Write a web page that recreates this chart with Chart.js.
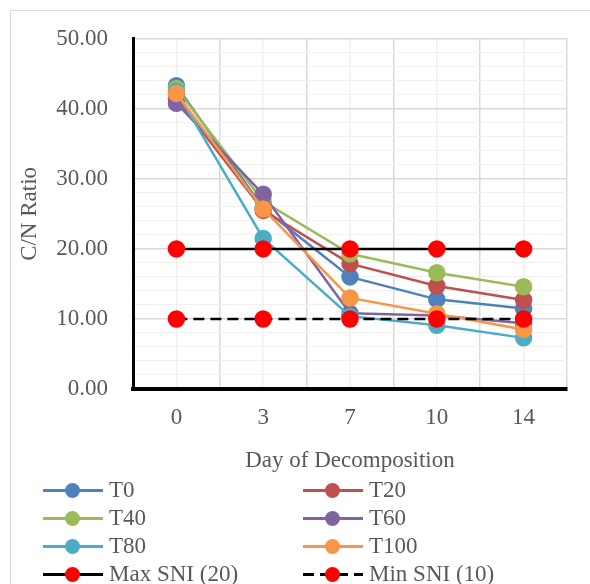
<!DOCTYPE html>
<html>
<head>
<meta charset="utf-8">
<script src="https://cdn.jsdelivr.net/npm/chart.js@4"></script>
<style>
  body { margin: 0; background: #fff; }
  #wrap { position: relative; width: 590px; height: 584px; overflow: hidden; }
  #frame { position: absolute; left: 10px; top: 10px; width: 620px; height: 620px; border: 1px solid #d9d9d9; }
  #chart { position: absolute; left: 0; top: 0; }
  .item { position: absolute; height: 28px; font: 23px "Liberation Serif", "Times New Roman", serif; color: #595959; white-space: nowrap; }
  .item .sym { position: absolute; left: 0; top: 13px; width: 60px; height: 3px; }
  .item .dot { position: absolute; left: 22px; top: 7px; width: 15px; height: 15px; border-radius: 50%; }
  .item .txt { position: absolute; left: 66px; top: 0; line-height: 28px; }
</style>
</head>
<body>
<div id="wrap">
  <div id="frame"></div>
  <canvas id="chart" width="590" height="480"></canvas>
  <div id="legend"></div>
</div>
<script>
const days = ['0', '3', '7', '10', '14'];
const seriesNames = ['T0', 'T20', 'T40', 'T60', 'T80', 'T100', 'Max SNI (20)', 'Min SNI (10)'];
const t0 = [43.3, 25.8, 16.0, 12.8, 11.5];
const t20 = [41.5, 25.5, 17.9, 14.7, 12.7];
const t40 = [42.9, 26.8, 19.3, 16.6, 14.6];
const t60 = [40.8, 27.8, 10.8, 10.5, 9.4];
const t80 = [42.5, 21.5, 10.4, 9.1, 7.3];
const t100 = [42.2, 25.7, 13.0, 10.75, 8.5];
const maxSni = [20, 20, 20, 20, 20];
const minSni = [10, 10, 10, 10, 10];
const yTicks = [0, 10, 20, 30, 40, 50];

const seriesValues = [t0, t20, t40, t60, t80, t100, maxSni, minSni];
const lineColors = ['#4F81BD', '#C0504D', '#9BBB59', '#8064A2', '#4BACC6', '#F79646', '#000000', '#000000'];
const dotColors = ['#4F81BD', '#C0504D', '#9BBB59', '#8064A2', '#4BACC6', '#F79646', '#FF0000', '#FF0000'];
const dashes = [[], [], [], [], [], [], [], [11, 6]];

const datasets = seriesNames.map((name, i) => ({
    label: name,
    data: seriesValues[i],
    borderColor: lineColors[i],
    backgroundColor: dotColors[i],
    pointBackgroundColor: dotColors[i],
    pointBorderColor: dotColors[i],
    borderWidth: 2.5,
    borderDash: dashes[i],
    pointRadius: 7.5,
    pointHoverRadius: 7.5,
    tension: 0,
    order: seriesNames.length - i // later series on top, like Excel
}));

const serif = '"Liberation Serif", "Times New Roman", serif';
const gray = '#595959';

new Chart(document.getElementById('chart'), {
    type: 'line',
    data: { labels: days, datasets: datasets },
    options: {
        responsive: false,
        animation: false,
        layout: { padding: { top: 38, right: 23, left: 0, bottom: 0 } },
        plugins: { legend: { display: false }, tooltip: { enabled: false } },
        scales: {
            x: {
                type: 'category',
                offset: true,
                grid: { offset: true, color: '#d9d9d9', lineWidth: 1.5, drawTicks: false },
                border: { color: '#000', width: 4 },
                ticks: { color: gray, font: { family: serif, size: 23 }, padding: 15 },
                title: { display: true, text: 'Day of Decomposition', color: gray, font: { family: serif, size: 23 }, padding: { top: 0, bottom: 5 } },
                afterFit: s => { s.height = 91; }
            },
            x2: {
                type: 'category',
                position: 'top',
                labels: days,
                offset: true,
                grid: { offset: false, color: '#f0f0f0', lineWidth: 1.5, drawTicks: false },
                border: { display: false },
                ticks: { display: false },
                afterFit: s => { s.height = 0; }
            },
            y: {
                min: 0,
                max: 50,
                ticks: {
                    stepSize: 2,
                    autoSkip: false,
                    padding: 25,
                    color: gray,
                    font: { family: serif, size: 23 },
                    callback: v => yTicks.includes(v) ? v.toFixed(2) : ''
                },
                grid: {
                    drawTicks: false,
                    lineWidth: ctx => yTicks.includes(ctx.tick.value) ? 1.5 : 1,
                    color: ctx => yTicks.includes(ctx.tick.value) ? '#d9d9d9' : '#f0f0f0'
                },
                border: { color: '#000', width: 3 },
                title: { display: true, text: 'C/N Ratio', color: gray, font: { family: serif, size: 23 }, padding: { top: 16, bottom: 0 } },
                afterFit: s => { s.width = 133; }
            }
        }
    }
});

// legend in two columns, like the reference
const legend = document.getElementById('legend');
seriesNames.forEach((name, i) => {
    const col = i % 2, row = Math.floor(i / 2);
    const item = document.createElement('div');
    item.className = 'item';
    item.style.left = (col ? 303 : 43) + 'px';
    item.style.top = (476 + row * 28) + 'px';
    const sym = document.createElement('div');
    sym.className = 'sym';
    sym.style.background = dashes[i].length
        ? `repeating-linear-gradient(90deg, ${lineColors[i]} 0 ${dashes[i][0]}px, transparent ${dashes[i][0]}px ${dashes[i][0] + dashes[i][1]}px)`
        : lineColors[i];
    const dot = document.createElement('div');
    dot.className = 'dot';
    dot.style.background = dotColors[i];
    const txt = document.createElement('div');
    txt.className = 'txt';
    txt.textContent = name;
    item.append(sym, dot, txt);
    legend.appendChild(item);
});
</script>
</body>
</html>
